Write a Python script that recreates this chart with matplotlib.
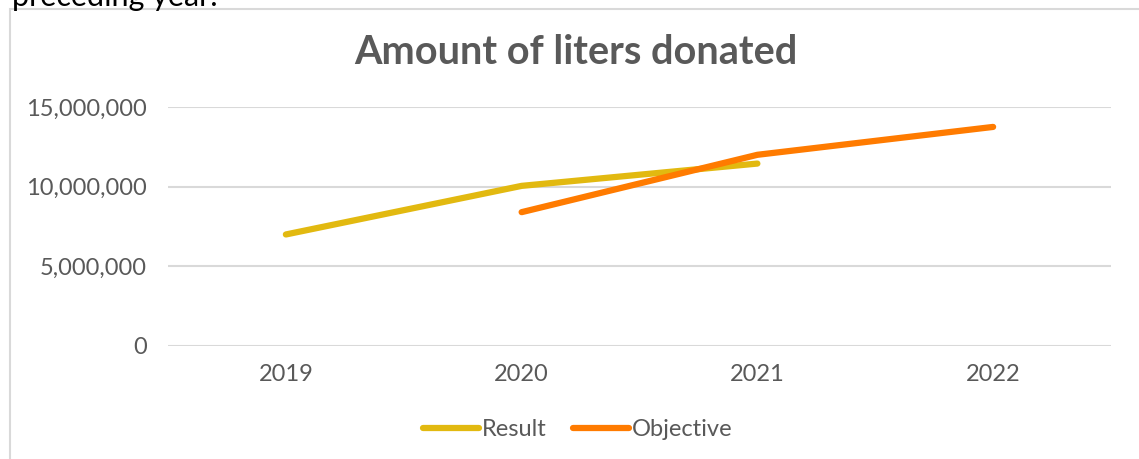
import matplotlib.pyplot as plt
from matplotlib.patches import Rectangle
from matplotlib.ticker import FuncFormatter
import numpy as np

years = ["2019", "2020", "2021", "2022"]
result = [7000000, 10050000, 11450000, np.nan]
objective = [np.nan, 8400000, 12000000, 13750000]

gray = "#595959"
plt.rcParams["font.family"] = ["Lato", "DejaVu Sans"]

fig = plt.figure(figsize=(11.39, 4.59), dpi=100)

# chart frame, clipped by the figure on the right and bottom
fig.patches.append(Rectangle((9.5 / 1139, -0.1), 1.2, 1 - 8.5 / 459 + 0.1,
                             transform=fig.transFigure, fill=False,
                             edgecolor="#d9d9d9", linewidth=1.5))
fig.text(12 / 1139, 1 - 6 / 459, "preceding year.", fontsize=22,
         color="black", ha="left", va="baseline")

ax = fig.add_axes([168 / 1139, 113 / 459, 943 / 1139, 239 / 459])
x = np.arange(len(years))
ax.plot(x, result, color="#E2B910", linewidth=4.5, solid_capstyle="round",
        label="Result")
ax.plot(x, objective, color="#FF7B00", linewidth=4.5, solid_capstyle="round",
        label="Objective")

ax.set_xlim(-0.5, 3.5)
ax.set_ylim(0, 15000000)
ax.set_yticks([0, 5000000, 10000000, 15000000])
ax.yaxis.set_major_formatter(FuncFormatter(lambda v, p: f"{v:,.0f}"))
ax.set_xticks(x)
ax.set_xticklabels(years)
ax.grid(axis="y", color="#d9d9d9", linewidth=1.5)
ax.set_axisbelow(True)
for s in ax.spines.values():
    s.set_visible(False)
ax.tick_params(length=0, labelsize=17, labelcolor=gray)
ax.tick_params(axis="y", pad=15)
ax.tick_params(axis="x", pad=13)

fig.text(576 / 1139, 1 - 53 / 459, "Amount of liters donated", fontsize=28.5,
         fontweight="bold", color=gray, ha="center", va="center")

fig.legend(loc="center", bbox_to_anchor=(578 / 1139, 1 - 430 / 459), ncol=2,
           frameon=False, fontsize=17, labelcolor=gray, handlelength=2.35,
           handletextpad=0.15, columnspacing=1.1)

fig.savefig("out.png", dpi=100)
